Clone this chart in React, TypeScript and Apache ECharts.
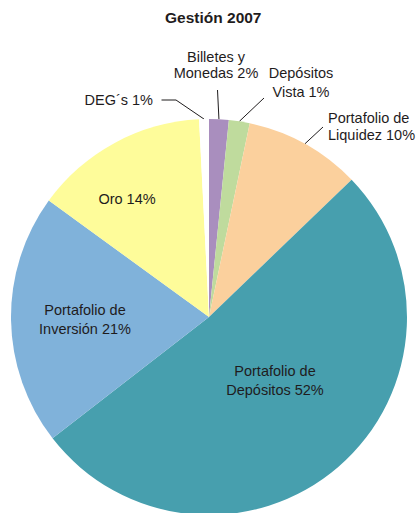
import React, { useEffect, useRef } from "react";
import * as echarts from "echarts";

const TITLE = "Gestión 2007";
const categories = [
  "Billetes y\nMonedas",
  "Depósitos\nVista",
  "Portafolio de\nLiquidez",
  "Portafolio de\nDepósitos",
  "Portafolio de\nInversión",
  "Oro",
  "DEG´s",
];
const values = [1.6, 1.7, 9.5, 51.7, 20.5, 14.2, 0.8];
const pctLabels = ["2%", "1%", "10%", "52%", "21%", "14%", "1%"];
const colors = ["#a98ebe", "#bfdb9d", "#fbd09d", "#479fae", "#80b2da", "#fefc9a", "#ffffff"];

// label placement (layout only)
const labelPlace: any[] = [
  { x: 216, y: 64.5, align: "center", lh: 16, outside: true, line: [[217.5, 90], [217.5, 90]] },
  { x: 301, y: 82.5, align: "center", lh: 18.5, outside: true, line: [[264, 98], [264, 98]] },
  { x: 328, y: 126.5, align: "left", lh: 17, outside: true, line: [[323, 127], [323, 127]] },
  { x: 275, y: 380.5, align: "center", lh: 19, outside: false },
  { x: 85, y: 319.5, align: "center", lh: 19, outside: false },
  { x: 127, y: 199, align: "center", lh: 17, outside: false },
  { x: 153, y: 100, align: "right", lh: 17, outside: true, line: [[176, 100], [161.5, 100]] },
];

const TEXT_COLOR = "#1f1c1d";
const FONT = "'Liberation Sans', Arial, Helvetica, sans-serif";

export default function App() {
  const ref = useRef<HTMLDivElement>(null);
  useEffect(() => {
    if (!ref.current) return;
    const chart = echarts.init(ref.current, undefined, { renderer: "svg" });
    const data = categories.map((name, i) => ({
      name,
      value: values[i],
      itemStyle: { color: colors[i] },
      label: {
        position: labelPlace[i].outside ? "outside" : "inside",
        lineHeight: labelPlace[i].lh,
      },
      labelLine: { show: !!labelPlace[i].outside },
    }));
    chart.setOption({
      animation: false,
      backgroundColor: "#ffffff",
      title: {
        text: TITLE,
        left: 165,
        top: 9,
        padding: 0,
        textStyle: { fontFamily: FONT, fontSize: 15.5, fontWeight: "bold", color: TEXT_COLOR },
      },
      series: [
        {
          type: "pie",
          center: [209, 317],
          radius: [0, 198],
          startAngle: 90,
          clockwise: true,
          avoidLabelOverlap: false,
          silent: true,
          data,
          label: {
            show: true,
            color: TEXT_COLOR,
            fontFamily: FONT,
            fontSize: 14.5,
            formatter: (p: any) => `${p.name} ${pctLabels[p.dataIndex]}`,
          },
          labelLine: {
            show: true,
            lineStyle: { color: TEXT_COLOR, width: 1 },
          },
          labelLayout: (params: any) => {
            const pl = labelPlace[params.dataIndex];
            const res: any = { x: pl.x, y: pl.y, align: pl.align, verticalAlign: "middle" };
            if (pl.outside && params.labelLinePoints) {
              const start = params.labelLinePoints[0];
              res.labelLinePoints = [start, pl.line[0], pl.line[1]];
            }
            return res;
          },
        },
      ],
    });
    return () => chart.dispose();
  }, []);
  return (
    <div style={{ position: "absolute", left: 0, top: 0, width: 416, height: 513 }}>
      <div ref={ref} style={{ width: 416, height: 513 }} />
    </div>
  );
}
